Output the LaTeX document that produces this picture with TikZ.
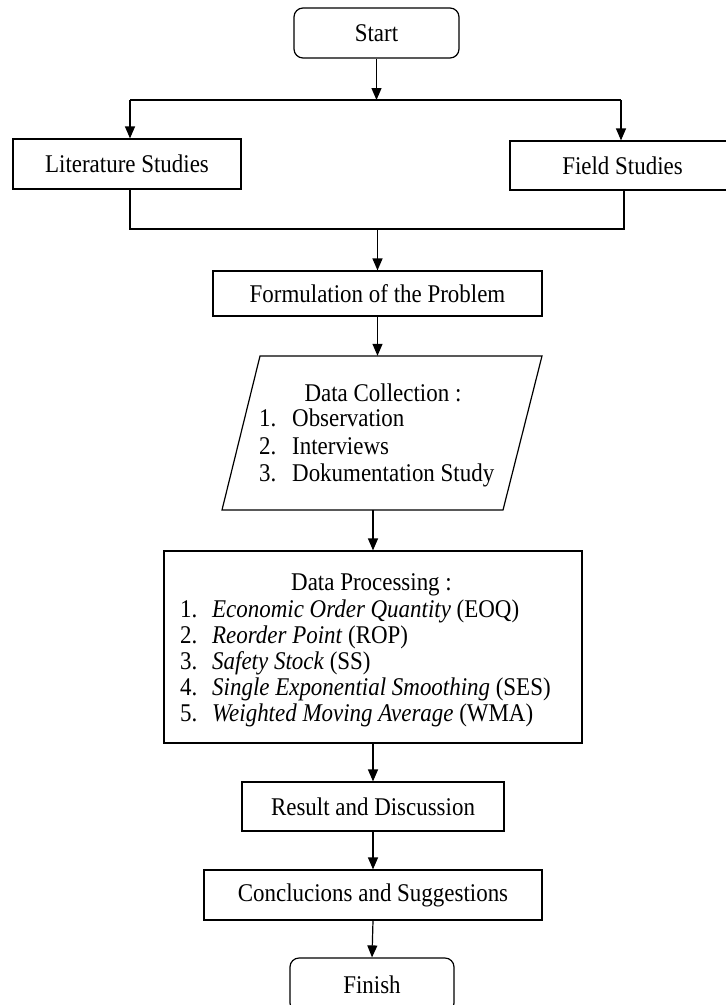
\documentclass[tikz,border=0pt]{standalone}
\usepackage{fontspec}
\setmainfont[FakeStretch=0.9]{Liberation Serif}
\usetikzlibrary{arrows.meta}
\tikzset{
  lbl/.style={font=\fontsize{25.5}{28}\selectfont},
  box/.style={draw, line width=1.2pt, rectangle, inner sep=0pt, lbl},
  term/.style={box, rounded corners=9pt},
  arr/.style={line width=1.2pt, -{Triangle[length=12pt,width=10pt]}},
  ln/.style={line width=1.2pt},
  txt/.style={inner sep=0pt, lbl, anchor=base west, text height=17pt, text depth=5pt},
  ctxt/.style={inner sep=0pt, lbl, anchor=base, text height=17pt, text depth=0pt},
}
\begin{document}
\begin{tikzpicture}[x=1pt, y=-1pt]
\useasboundingbox (0,0) rectangle (726,1005);
\clip (0,0) rectangle (726,1005);
\fill[white] (0,0) rectangle (726,1005);

% nodes
\node[term, minimum width=165pt, minimum height=50pt] (start) at (376.5,33) {Start};
\node[box, minimum width=228pt, minimum height=50pt] (lit) at (127,164) {Literature Studies};
\node[box, minimum width=225pt, minimum height=49pt] (field) at (622.5,165.5) {Field Studies};
\node[box, minimum width=329pt, minimum height=45pt] (form) at (377.5,293.5) {Formulation of the Problem};

% data collection (parallelogram)
\node[inner sep=0pt, minimum width=240pt, minimum height=154pt] (dc) at (378,433) {};
\draw[ln, line join=miter] (260,356) -- (542,356) -- (503,510) -- (222,510) -- cycle;
\node[ctxt] (dch) at (383,401) {Data Collection :};
\node[txt] (dc1) at (259,426) {\makebox[33pt][l]{1.}Observation};
\node[txt] (dc2) at (259,454) {\makebox[33pt][l]{2.}Interviews};
\node[txt] (dc3) at (259,481) {\makebox[33pt][l]{3.}Dokumentation Study};

% data processing
\node[box, minimum width=418pt, minimum height=192pt] (proc) at (373,647) {};
\node[ctxt] (pch) at (371.5,590.5) {Data Processing :};
\node[txt] (p1) at (180,617.5) {\makebox[32pt][l]{1.}\textit{Economic Order Quantity} (EOQ)};
\node[txt] (p2) at (180,643.5) {\makebox[32pt][l]{2.}\textit{Reorder Point} (ROP)};
\node[txt] (p3) at (180,669.5) {\makebox[32pt][l]{3.}\textit{Safety Stock} (SS)};
\node[txt] (p4) at (180,695) {\makebox[32pt][l]{4.}\textit{Single Exponential Smoothing} (SES)};
\node[txt] (p5) at (180,721) {\makebox[32pt][l]{5.}\textit{Weighted Moving Average} (WMA)};

\node[box, minimum width=262pt, minimum height=49pt] (res) at (373,806.5) {Result and Discussion};
\node[box, minimum width=338pt, minimum height=50pt] (conc) at (373,895) {Conclucions and Suggestions};
\node[term, minimum width=164pt, minimum height=54pt] (fin) at (372,985) {Finish};

% connectors
\coordinate (sp) at (376.5,100);
\coordinate (mg) at (377.5,229);
\draw[arr] (start.south) -- (sp);
\draw[ln] (130,100) -- (621,100);
\coordinate (litin) at (130,100);
\coordinate (fieldin) at (621,100);
\draw[arr] (litin) -- (litin |- lit.north);
\draw[arr] (fieldin) -- (fieldin |- field.north);
\coordinate (litout) at (130,189);
\coordinate (fieldout) at (624,190);
\draw[ln] (litout) -- (litout |- mg) -- (fieldout |- mg) -- (fieldout);
\draw[arr] (mg) -- (form.north);
\draw[arr] (form.south) -- (form.south |- dc.north);
\draw[arr] (proc.north |- dc.south) -- (proc.north);
\draw[arr] (proc.south) -- (res.north);
\draw[arr] (res.south) -- (conc.north);
\draw[arr] (conc.south) -- (fin.north);
\end{tikzpicture}
\end{document}
